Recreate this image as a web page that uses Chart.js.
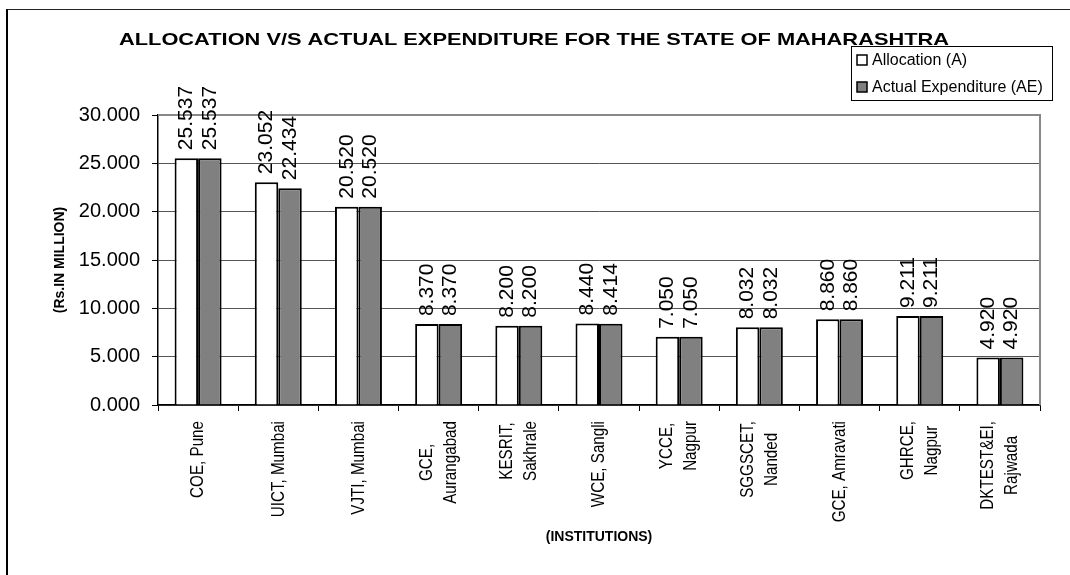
<!DOCTYPE html>
<html><head><meta charset="utf-8">
<script src="https://cdn.jsdelivr.net/npm/chart.js@4.4.1/dist/chart.umd.min.js"></script>
<style>
html,body{margin:0;padding:0;background:#fff;}
#wrap{position:relative;width:1070px;height:575px;overflow:hidden;background:#fff;}
#frame{position:absolute;left:6px;top:9px;width:1200px;height:700px;border-left:2px solid #000;border-top:1px solid #222;}
canvas{position:absolute;left:0;top:0;}
</style></head><body>
<div id="wrap"><div id="frame"></div><canvas id="c" width="1070" height="575"></canvas></div>
<script>
const chartTitle = 'ALLOCATION V/S ACTUAL EXPENDITURE FOR THE STATE OF MAHARASHTRA';
const categories = [
  ['COE, Pune'], ['UICT, Mumbai'], ['VJTI, Mumbai'], ['GCE,', 'Aurangabad'],
  ['KESRIT,', 'Sakhrale'], ['WCE, Sangli'], ['YCCE,', 'Nagpur'], ['SGGSCET,', 'Nanded'],
  ['GCE, Amravati'], ['GHRCE,', 'Nagpur'], ['DKTEST&EI,', 'Rajwada']
];
const seriesNames = ['Allocation (A)', 'Actual Expenditure (AE)'];
const allocation = [25.537, 23.052, 20.520, 8.370, 8.200, 8.440, 7.050, 8.032, 8.860, 9.211, 4.920];
const actualExpenditure = [25.537, 22.434, 20.520, 8.370, 8.200, 8.414, 7.050, 8.032, 8.860, 9.211, 4.920];
const yTicks = [0, 5, 10, 15, 20, 25, 30];
const yAxisTitle = '(Rs.IN MILLION)';
const xAxisTitle = '(INSTITUTIONS)';

const FONT = '"Liberation Sans", Arial, Helvetica, sans-serif';

const customPlugin = {
  id: 'custom',
  beforeDatasetsDraw(chart) {
    const ctx = chart.ctx, a = chart.chartArea;
    ctx.save();
    ctx.strokeStyle = '#888';
    ctx.lineWidth = 2;
    ctx.beginPath();
    ctx.moveTo(a.left, a.top);
    ctx.lineTo(a.right, a.top);
    ctx.lineTo(a.right, a.bottom);
    ctx.stroke();
    ctx.restore();
  },
  afterDatasetsDraw(chart) {
    const ctx = chart.ctx;
    chart.data.datasets.forEach((ds, di) => {
      const meta = chart.getDatasetMeta(di);
      meta.data.forEach((bar, i) => {
        ctx.save();
        ctx.translate(bar.x, bar.y - 8);
        ctx.rotate(-Math.PI / 2);
        ctx.font = '21px ' + FONT;
        ctx.fillStyle = '#000';
        ctx.textAlign = 'left';
        ctx.textBaseline = 'middle';
        ctx.fillText(ds.data[i].toFixed(3), 0, 0);
        ctx.restore();
      });
    });
  },
  afterDraw(chart) {
    const ctx = chart.ctx, a = chart.chartArea;
    const xs = chart.scales.x;
    // x category labels
    ctx.save();
    ctx.font = '19px ' + FONT;
    ctx.fillStyle = '#000';
    chart.data.labels.forEach((lines, i) => {
      const x = xs.getPixelForValue(i);
      const maxW = Math.max(...lines.map(l => ctx.measureText(l).width));
      lines.forEach((l, j) => {
        ctx.save();
        ctx.translate(x + (j - (lines.length - 1) / 2) * 24, a.bottom + 16);
        ctx.rotate(-Math.PI / 2);
        ctx.scale(0.8, 1);
        ctx.textAlign = 'center';
        ctx.textBaseline = 'middle';
        ctx.fillText(l, -maxW / 2, 0);
        ctx.restore();
      });
    });
    ctx.restore();

    // axis titles
    ctx.save();
    ctx.fillStyle = '#000';
    ctx.font = 'bold 14px ' + FONT;
    ctx.textAlign = 'center';
    ctx.textBaseline = 'middle';
    ctx.fillText(xAxisTitle, (a.left + a.right) / 2, 537);
    ctx.translate(60, (a.top + a.bottom) / 2);
    ctx.rotate(-Math.PI / 2);
    ctx.fillText(yAxisTitle, 0, 0);
    ctx.restore();

    // title
    ctx.save();
    ctx.fillStyle = '#000';
    ctx.font = 'bold 17px ' + FONT;
    const tw = ctx.measureText(chartTitle).width;
    ctx.translate(534, 45);
    ctx.scale(830 / tw, 1);
    ctx.textAlign = 'center';
    ctx.textBaseline = 'alphabetic';
    ctx.fillText(chartTitle, 0, 0);
    ctx.restore();

    // legend
    ctx.save();
    const lx = 851, ly = 46, lw = 201, lh = 54;
    ctx.fillStyle = '#fff';
    ctx.fillRect(lx, ly, lw, lh);
    ctx.strokeStyle = '#000';
    ctx.lineWidth = 1;
    ctx.strokeRect(lx + 0.5, ly + 0.5, lw, lh);
    ctx.font = '16px ' + FONT;
    ctx.textAlign = 'left';
    ctx.textBaseline = 'middle';
    chart.data.datasets.forEach((ds, di) => {
      const cy = ly + 14 + di * 27;
      ctx.fillStyle = ds.backgroundColor;
      ctx.fillRect(857, cy - 5, 10, 10);
      ctx.lineWidth = 1.5;
      ctx.strokeStyle = '#000';
      ctx.strokeRect(857, cy - 5, 10, 10);
      ctx.fillStyle = '#000';
      ctx.fillText(ds.label, 872, cy + 1);
    });
    ctx.restore();
  }
};

new Chart(document.getElementById('c'), {
  type: 'bar',
  data: {
    labels: categories,
    datasets: [
      { label: seriesNames[0], data: allocation, backgroundColor: '#ffffff', borderColor: '#000', borderWidth: 2 },
      { label: seriesNames[1], data: actualExpenditure, backgroundColor: '#808080', borderColor: '#000', borderWidth: 2 }
    ]
  },
  options: {
    responsive: false,
    devicePixelRatio: 1,
    animation: false,
    layout: { padding: { left: 0, top: 115, right: 30, bottom: 0 } },
    plugins: { legend: { display: false }, title: { display: false }, tooltip: { enabled: false } },
    datasets: { bar: { categoryPercentage: 0.586, barPercentage: 1.0 } },
    scales: {
      x: {
        offset: true,
        grid: { offset: true, drawOnChartArea: false, drawTicks: true, tickLength: 6, tickColor: '#000', lineWidth: 1 },
        border: { display: true, color: '#000', width: 1.5 },
        ticks: { display: false },
        afterFit(scale) { scale.height = 170; }
      },
      y: {
        min: 0, max: 30,
        afterBuildTicks(scale) { scale.ticks = yTicks.map(v => ({ value: v })); },
        grid: { color: '#555', lineWidth: 1, tickColor: '#000', tickLength: 6, drawTicks: true },
        border: { display: true, color: '#000', width: 1.5 },
        ticks: {
          padding: 12,
          color: '#000',
          font: { family: FONT, size: 20 },
          callback: v => Number(v).toFixed(3)
        },
        afterFit(scale) { scale.width = 158; }
      }
    }
  },
  plugins: [customPlugin]
});
</script>
</body></html>
